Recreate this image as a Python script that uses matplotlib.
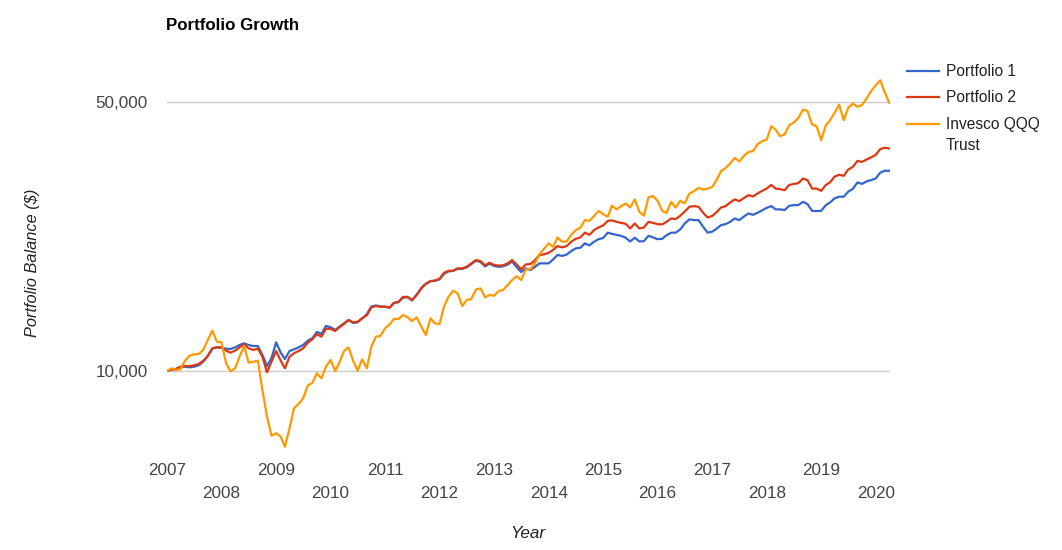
import pandas as pd
import matplotlib
matplotlib.use('Agg')
import matplotlib.pyplot as plt
import matplotlib.dates as mdates
from matplotlib.lines import Line2D
from matplotlib.ticker import FixedLocator, FuncFormatter

plt.rcParams['font.family'] = ['Liberation Sans', 'DejaVu Sans']

# monthly balances, Jan 2007 .. Apr 2020
portfolio_2 = [
    10000, 10080, 10120, 10260, 10300, 10300, 10340, 10430, 10630, 10940,
    11450, 11520, 11520, 11290, 11160, 11290, 11520, 11730, 11450, 11340,
    11430, 10890, 9920, 10570, 11270, 10630, 10160, 10890, 11120, 11270,
    11450, 11840, 12090, 12460, 12280, 12880, 12860, 12700, 12990, 13240,
    13570, 13380, 13430, 13710, 13960, 14630, 14750, 14690, 14690, 14630,
    15040, 15130, 15580, 15580, 15290, 15760, 16390, 16830, 17130, 17170,
    17370, 18000, 18220, 18220, 18480, 18480, 18660, 19040, 19420, 19300,
    18820, 19110, 18860, 18780, 18820, 19040, 19420, 18920, 18370, 18920,
    18960, 19420, 20020, 20100, 20280, 20650, 21110, 20950, 21110, 21670,
    22050, 22240, 22880, 22580, 23230, 23600, 23890, 24560, 24620, 24410,
    24260, 24120, 23460, 24170, 23460, 23600, 24410, 24260, 24080, 24040,
    24410, 24910, 24820, 25330, 25980, 26720, 26820, 26720, 25770, 25060,
    25280, 25910, 26600, 26820, 27410, 27920, 27630, 28150, 28640, 28420,
    28930, 29380, 29790, 30440, 29790, 29680, 29500, 30440, 30630, 30760,
    31640, 31330, 29790, 29790, 29380, 30440, 30910, 32000, 32350, 32150,
    33380, 33910, 35160, 34940, 35450, 35890, 36440, 37730, 38030, 37880,
]

portfolio_1 = [
    10000, 10080, 10120, 10220, 10260, 10220, 10260, 10340, 10570, 10940,
    11430, 11520, 11480, 11430, 11400, 11520, 11680, 11800, 11680, 11610,
    11610, 11010, 10300, 10790, 11870, 11160, 10740, 11270, 11380, 11520,
    11680, 11990, 12160, 12630, 12480, 13090, 12990, 12780, 13030, 13300,
    13570, 13330, 13380, 13700, 14050, 14700, 14800, 14700, 14690, 14600,
    15000, 15100, 15500, 15550, 15250, 15800, 16450, 16850, 17100, 17150,
    17300, 17900, 18150, 18200, 18420, 18420, 18600, 18950, 19350, 19200,
    18700, 19000, 18750, 18650, 18700, 18900, 19250, 18600, 18080, 18480,
    18290, 18640, 19040, 19040, 19040, 19510, 20020, 19910, 20060, 20490,
    20830, 20900, 21460, 21200, 21670, 22000, 22160, 22880, 22710, 22580,
    22450, 22200, 21700, 22200, 21700, 21750, 22450, 22240, 22000, 22050,
    22540, 22880, 22880, 23340, 24170, 24780, 24660, 24660, 23710, 22880,
    23020, 23460, 23940, 24080, 24410, 24910, 24660, 25200, 25670, 25460,
    25770, 26140, 26540, 26820, 26300, 26300, 26200, 26870, 26980, 26980,
    27520, 27150, 26070, 26040, 26070, 26980, 27410, 28090, 28370, 28370,
    29240, 29740, 30910, 30630, 31090, 31330, 31640, 32760, 33140, 33140,
]

qqq = [
    10000, 10160, 10060, 10100, 10620, 10960, 11050, 11070, 11340, 12040,
    12730, 11920, 11870, 10470, 9980, 10160, 10890, 11610, 10510, 10570,
    10630, 8925, 7610, 6790, 6890, 6750, 6355, 7100, 8000, 8210,
    8490, 9160, 9320, 9860, 9570, 10260, 10680, 10000, 10510, 11270,
    11520, 10630, 10010, 10720, 10160, 11560, 12280, 12330, 12910, 13220,
    13650, 13650, 13980, 13790, 13485, 13790, 13030, 12400, 13710, 13300,
    13240, 14750, 15580, 16160, 15910, 14750, 15290, 15380, 16290, 16390,
    15540, 15760, 15690, 16160, 16220, 16720, 17230, 17640, 17230, 18370,
    18400, 19040, 20130, 20770, 21460, 21020, 22240, 21670, 21700, 22580,
    23230, 23550, 24660, 24560, 25280, 26070, 25560, 25170, 26870, 26300,
    26820, 27250, 26600, 27920, 25910, 25330, 28260, 28490, 27690, 26070,
    25740, 27520, 26600, 27690, 27250, 28930, 29330, 29900, 29620, 29790,
    30070, 31450, 33055, 33710, 34620, 35790, 35030, 36210, 37100, 37250,
    38870, 39550, 39950, 43260, 42400, 40780, 41200, 43520, 44220, 45450,
    47780, 47400, 43700, 43260, 39790, 43520, 44830, 46890, 49240, 44830,
    48350, 49530, 48600, 49100, 51050, 53320, 55260, 56950, 53100, 49800,
]

series_names = ['Portfolio 1', 'Portfolio 2', 'Invesco QQQ', 'Trust']
series_colors = ['#3366cc', '#dc3912', '#ff9900']
y_ticks = [10000, 50000]
years = list(range(2007, 2021))

dates = pd.date_range('2007-01-01', periods=len(qqq), freq='MS')

fig = plt.figure(figsize=(10.62, 5.5), dpi=100)
ax = fig.add_axes([167 / 1062, 95 / 550, 723 / 1062, 380 / 550])

for values, color in zip([portfolio_1, portfolio_2, qqq], series_colors):
    ax.plot(dates, values, color=color, lw=1.6, solid_joinstyle='round')

ax.set_yscale('log')
ax.set_ylim(6048, 58780)
ax.set_xlim(pd.Timestamp('2007-01-01'), pd.Timestamp('2020-04-06'))

ax.yaxis.set_major_locator(FixedLocator(y_ticks))
ax.yaxis.set_minor_locator(FixedLocator([]))
ax.yaxis.set_major_formatter(FuncFormatter(lambda v, p: f'{v:,.0f}'))
ax.grid(axis='y', color='#cccccc', lw=1)
ax.set_axisbelow(True)
for s in ax.spines.values():
    s.set_visible(False)
ax.tick_params(axis='y', length=0, pad=14, labelsize=12.3, labelcolor='#444444')

ax.xaxis.set_major_locator(FixedLocator([mdates.date2num(pd.Timestamp(f'{y}-01-01')) for y in years]))
ax.set_xticklabels([str(y) if i % 2 == 0 else '\n' + str(y) for i, y in enumerate(years)],
                   linespacing=1.6)
ax.tick_params(axis='x', length=0, pad=6, labelsize=12.3, labelcolor='#444444')

fig.text(166 / 1062, 1 - 26 / 550, 'Portfolio Growth', fontsize=12.2, fontweight='bold',
         va='center', ha='left', color='#000000')
fig.text(33 / 1062, 1 - 263 / 550, 'Portfolio Balance ($)', fontsize=11.8, style='italic',
         rotation=90, va='center', ha='center', color='#222222')
fig.text(528 / 1062, 1 - 534 / 550, 'Year', fontsize=12.3, style='italic',
         va='center', ha='center', color='#222222')

# legend, drawn by hand so the QQQ label can wrap like the original
leg_y = [71, 97, 124]
for color, y in zip(series_colors, leg_y):
    fig.add_artist(Line2D([907 / 1062, 939 / 1062], [1 - y / 550, 1 - y / 550],
                          color=color, lw=1.6, transform=fig.transFigure))
for name, y in zip(series_names, leg_y + [146]):
    fig.text(946 / 1062, 1 - y / 550, name, fontsize=11.2, va='center', ha='left', color='#222222')

fig.savefig('out.png', dpi=100)
